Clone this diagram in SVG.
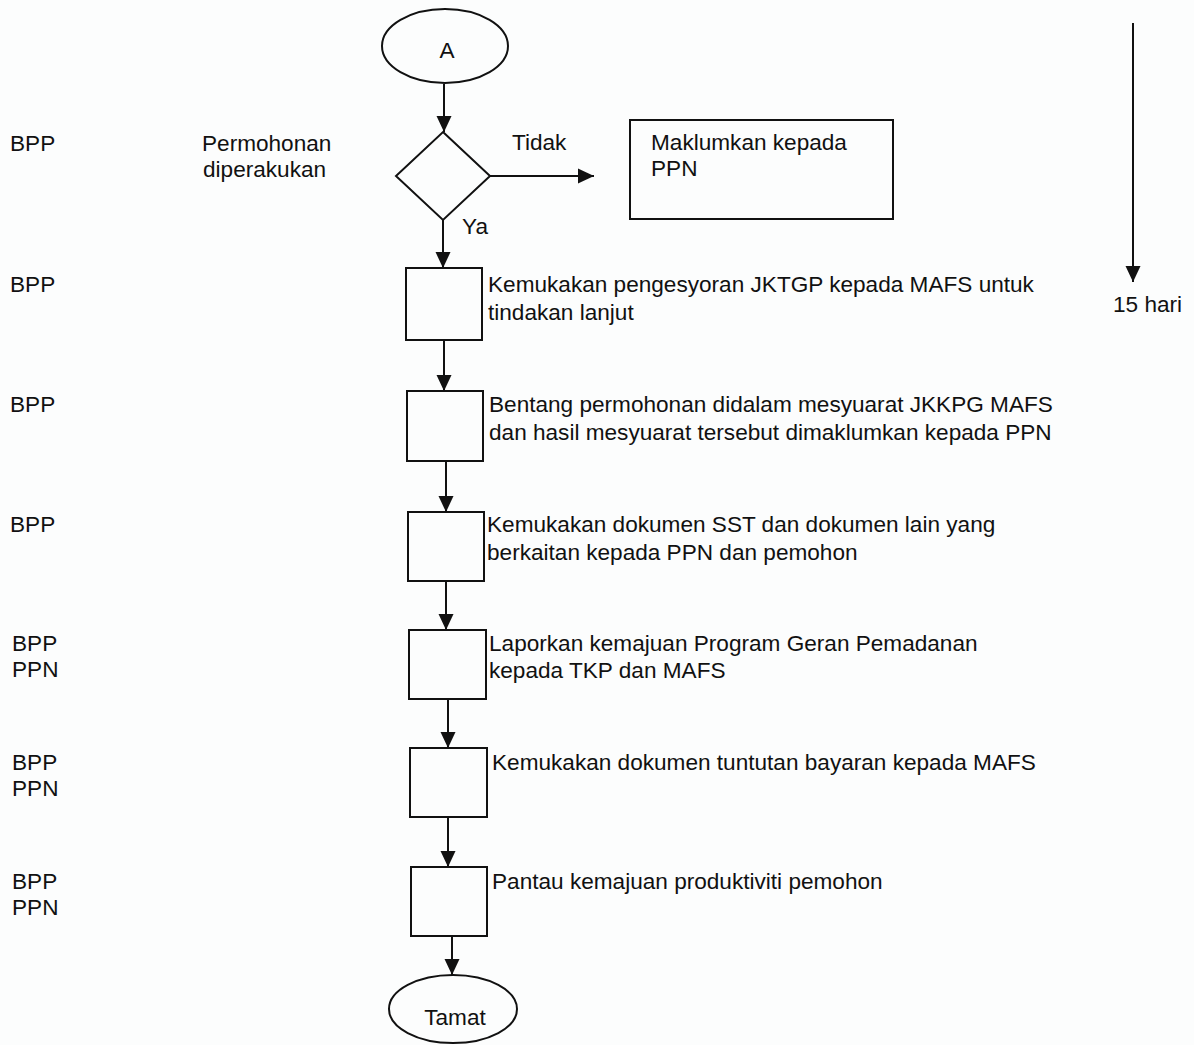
<svg xmlns="http://www.w3.org/2000/svg" width="1194" height="1045" viewBox="0 0 1194 1045">
<defs>
<style>
text{font-family:"Liberation Sans",Arial,sans-serif;font-size:22.6px;fill:#111}
.s{fill:none;stroke:#111;stroke-width:2}
.c{stroke:#111;stroke-width:2;fill:none}
.m{text-anchor:middle}
</style>
<marker id="ah" markerUnits="userSpaceOnUse" markerWidth="18" markerHeight="18" viewBox="0 0 18 18" refX="17" refY="9" orient="auto">
<path d="M1,1.5 L17,9 L1,16.5 Z" fill="#111"/>
</marker>
</defs>
<rect width="1194" height="1045" fill="#fcfdfd"/>
<g id="labels">
<text x="10" y="151">BPP</text>
<text x="10" y="292">BPP</text>
<text x="10" y="412">BPP</text>
<text x="10" y="532">BPP</text>
<text x="12" y="651">BPP</text><text x="12" y="677">PPN</text>
<text x="12" y="770">BPP</text><text x="12" y="796">PPN</text>
<text x="12" y="889">BPP</text><text x="12" y="915">PPN</text>
</g>
<g id="connectors">
<line class="c" x1="444" y1="84" x2="444" y2="132" marker-end="url(#ah)"/>
<line class="c" x1="443" y1="220" x2="443" y2="268" marker-end="url(#ah)"/>
<line class="c" x1="444" y1="340" x2="444" y2="391" marker-end="url(#ah)"/>
<line class="c" x1="446" y1="461" x2="446" y2="512" marker-end="url(#ah)"/>
<line class="c" x1="446" y1="581" x2="446" y2="630" marker-end="url(#ah)"/>
<line class="c" x1="448" y1="699" x2="448" y2="748" marker-end="url(#ah)"/>
<line class="c" x1="448" y1="817" x2="448" y2="867" marker-end="url(#ah)"/>
<line class="c" x1="452" y1="936" x2="452" y2="975" marker-end="url(#ah)"/>
<line class="c" x1="490" y1="176" x2="594" y2="176" marker-end="url(#ah)"/>
<text x="512" y="150">Tidak</text>
<text x="462" y="234">Ya</text>
<line class="c" x1="1133" y1="23" x2="1133" y2="282" marker-end="url(#ah)"/>
<text x="1113" y="312">15 hari</text>
</g>
<g id="start">
<ellipse class="s" cx="445" cy="46" rx="63" ry="37"/>
<text class="m" x="447" y="58">A</text>
</g>
<g id="decision">
<polygon class="s" points="443,132 490,176 443,220 396,176"/>
<text x="202" y="151">Permohonan</text>
<text x="203" y="177">diperakukan</text>
</g>
<g id="notify">
<rect class="s" x="630" y="120" width="263" height="99"/>
<text x="651" y="150">Maklumkan kepada</text>
<text x="651" y="176">PPN</text>
</g>
<g id="step1">
<rect class="s" x="406" y="268" width="76" height="72"/>
<text x="488" y="292">Kemukakan pengesyoran JKTGP kepada MAFS untuk</text>
<text x="488" y="320">tindakan lanjut</text>
</g>
<g id="step2">
<rect class="s" x="407" y="391" width="76" height="70"/>
<text x="489" y="412">Bentang permohonan didalam mesyuarat JKKPG MAFS</text>
<text x="489" y="440">dan hasil mesyuarat tersebut dimaklumkan kepada PPN</text>
</g>
<g id="step3">
<rect class="s" x="408" y="512" width="76" height="69"/>
<text x="487" y="532">Kemukakan dokumen SST dan dokumen lain yang</text>
<text x="487" y="560">berkaitan kepada PPN dan pemohon</text>
</g>
<g id="step4">
<rect class="s" x="409" y="630" width="77" height="69"/>
<text x="489" y="651">Laporkan kemajuan Program Geran Pemadanan</text>
<text x="489" y="678">kepada TKP dan MAFS</text>
</g>
<g id="step5">
<rect class="s" x="410" y="748" width="77" height="69"/>
<text x="492" y="770">Kemukakan dokumen tuntutan bayaran kepada MAFS</text>
</g>
<g id="step6">
<rect class="s" x="411" y="867" width="76" height="69"/>
<text x="492" y="889">Pantau kemajuan produktiviti pemohon</text>
</g>
<g id="end">
<ellipse class="s" cx="453" cy="1009" rx="64" ry="34"/>
<text class="m" x="455" y="1025">Tamat</text>
</g>
</svg>
